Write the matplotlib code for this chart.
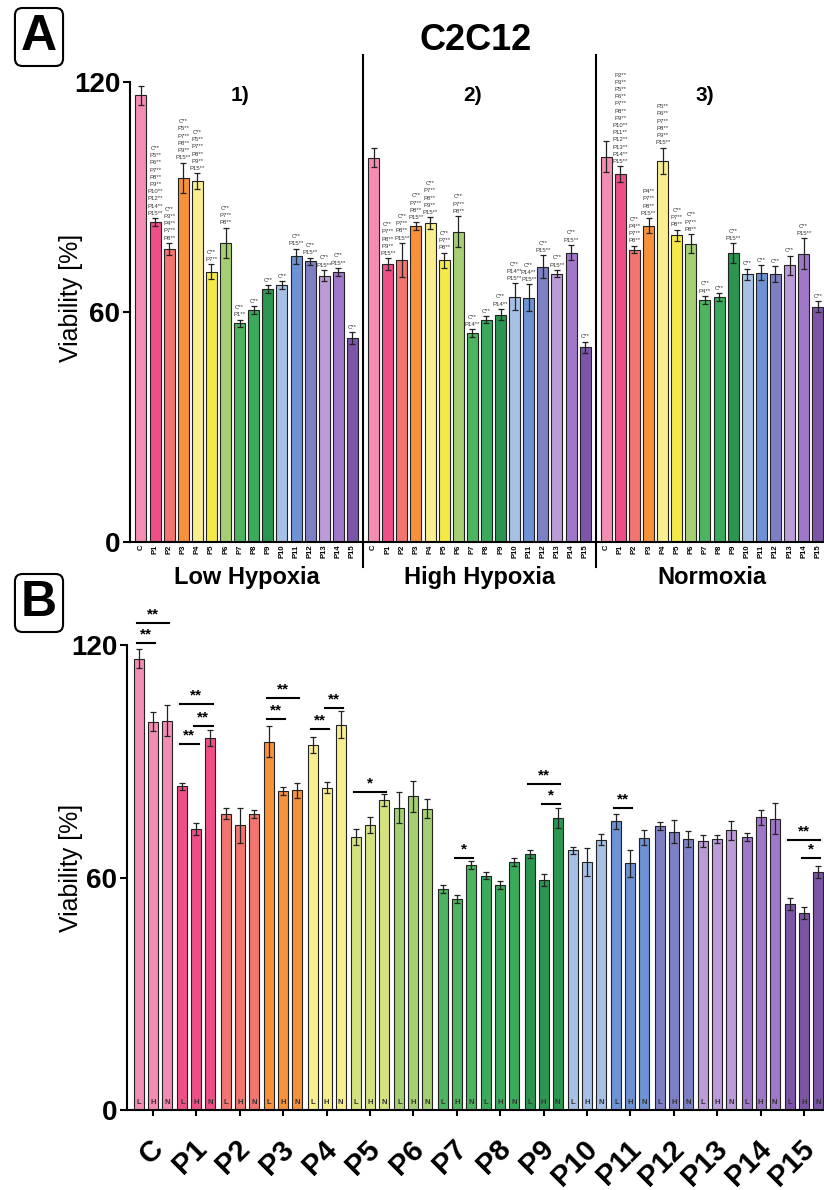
import numpy as np
import matplotlib.pyplot as plt
from matplotlib import transforms

plt.rcParams['font.family'] = ['Liberation Sans', 'DejaVu Sans']

# ---- data ----
compounds = ['C', 'P1', 'P2', 'P3', 'P4', 'P5', 'P6', 'P7', 'P8', 'P9',
             'P10', 'P11', 'P12', 'P13', 'P14', 'P15']
conditions = ['Low Hypoxia', 'High Hypoxia', 'Normoxia']
cond_short = ['L', 'H', 'N']
group_titles = ['1)', '2)', '3)']

low_hypoxia = [116.5, 83.5, 76.5, 95.0, 94.2, 70.5, 78.0, 57.0, 60.5, 66.0,
               67.0, 74.5, 73.2, 69.5, 70.5, 53.2]
low_hypoxia_err = [2.5, 1.0, 1.5, 4.0, 2.0, 2.0, 4.0, 1.0, 1.0, 1.0,
                   1.0, 2.0, 1.0, 1.5, 1.0, 1.5]
high_hypoxia = [100.2, 72.5, 73.5, 82.4, 83.2, 73.5, 81.0, 54.5, 58.0, 59.3,
                64.0, 63.7, 71.8, 70.0, 75.5, 50.8]
high_hypoxia_err = [2.5, 1.5, 4.5, 1.0, 1.5, 2.0, 4.0, 1.0, 1.0, 1.5,
                    3.5, 3.5, 3.0, 1.0, 2.0, 1.5]
normoxia = [100.5, 96.0, 76.3, 82.5, 99.4, 80.0, 77.8, 63.2, 64.0, 75.4,
            69.8, 70.3, 69.9, 72.2, 75.2, 61.4]
normoxia_err = [4.0, 2.0, 1.0, 2.0, 3.5, 1.5, 2.5, 1.0, 1.0, 2.5,
                1.5, 2.0, 2.0, 2.5, 4.0, 1.5]

colors = ['#F48DB4', '#EE4F86', '#F2756F', '#F7923A', '#F9EE8E', '#F4EA47',
          '#A5CF72', '#4DB560', '#3AAA5C', '#2A9650', '#A7C0E6', '#6D92D5',
          '#7D80C4', '#BB9BD8', '#A078C9', '#7C55A8']
colors_b = list(colors)
colors_b[5] = '#D5E27E'

# post-hoc labels stacked above the bars of panel A
sig_low = [[], ['C**', 'P5**', 'P6**', 'P7**', 'P8**', 'P9**', 'P10**', 'P12**', 'P14**', 'P15**'],
           ['C**', 'P3**', 'P4**', 'P7**', 'P8**'],
           ['C**', 'P5**', 'P7**', 'P8**', 'P9**', 'P15**'],
           ['C**', 'P5**', 'P7**', 'P8**', 'P9**', 'P15**'],
           ['C**', 'P7**'], ['C**', 'P7**', 'P8**'], ['C**', 'P1**'], ['C**'], ['C**'],
           ['C**'], ['C**', 'P15**'], ['C**', 'P15**'], ['C**', 'P15**'], ['C**', 'P15**'], ['C**']]
sig_high = [[], ['C**', 'P7**', 'P8**', 'P9**', 'P15**'], ['C**', 'P7**', 'P8**', 'P15**'],
            ['C**', 'P7**', 'P8**', 'P15**'], ['C**', 'P7**', 'P8**', 'P9**', 'P15**'],
            ['C**', 'P7**', 'P8**'], ['C**', 'P7**', 'P8**'], ['C**', 'P14**'], ['C**'],
            ['C**', 'P14**'], ['C**', 'P14**', 'P15**'], ['C**', 'P14**', 'P15**'],
            ['C**', 'P15**'], ['C**', 'P15**'], ['C**', 'P15**'], ['C**']]
sig_norm = [[], ['P2**', 'P3**', 'P5**', 'P6**', 'P7**', 'P8**', 'P9**', 'P10**', 'P11**',
                 'P12**', 'P13**', 'P14**', 'P15**'],
            ['C**', 'P4**', 'P7**', 'P8**'], ['P4**', 'P7**', 'P8**', 'P15**'],
            ['P5**', 'P6**', 'P7**', 'P8**', 'P9**', 'P15**'],
            ['C**', 'P7**', 'P8**'], ['C**', 'P7**', 'P8**'], ['C**', 'P4**'], ['C**'],
            ['C**', 'P15**'], ['C**'], ['C**'], ['C**'], ['C**'], ['C**', 'P15**'], ['C**']]

# panel B comparisons: (compound index, bar a, bar b, stars, bracket height)
sig_pairs = [(0, 0, 1, '**', 120.5), (0, 0, 2, '**', 125.7),
             (1, 0, 1, '**', 94.5), (1, 1, 2, '**', 99.1), (1, 0, 2, '**', 104.8),
             (3, 0, 1, '**', 100.9), (3, 0, 2, '**', 106.3),
             (4, 0, 1, '**', 98.3), (4, 1, 2, '**', 103.7),
             (5, 0, 2, '*', 82.1), (7, 1, 2, '*', 65.0),
             (9, 0, 2, '**', 84.1), (9, 1, 2, '*', 79.0),
             (11, 0, 1, '**', 77.9),
             (15, 0, 2, '**', 69.7), (15, 1, 2, '*', 65.0)]

values = [low_hypoxia, high_hypoxia, normoxia]
errors = [low_hypoxia_err, high_hypoxia_err, normoxia_err]
sigs = [sig_low, sig_high, sig_norm]

fig = plt.figure(figsize=(8.24, 11.9), dpi=100)
W, H = 824, 1190

def style_y(ax):
    ax.set_ylim(0, 120)
    ax.set_yticks([0, 60, 120])
    ax.tick_params(axis='y', length=5, width=1.5, pad=2, labelsize=20)
    for t in ax.get_yticklabels():
        t.set_fontweight('bold')
    for s in ['top', 'right']:
        ax.spines[s].set_visible(False)
    for s in ['left', 'bottom']:
        ax.spines[s].set_linewidth(1.5)
    ax.set_ylabel('Viability [%]', fontsize=18)

# ---------------- panel A ----------------
axA = fig.add_axes([130 / W, 1 - 542 / H, 694 / W, 460 / H])
n = len(compounds)
group_step = 16.5
xA = []
for g in range(3):
    x = np.arange(n) + g * group_step
    xA.extend(x)
    axA.bar(x, values[g], width=0.78, color=colors, edgecolor='#222222', linewidth=0.8)
    axA.errorbar(x, values[g], yerr=errors[g], fmt='none', ecolor='#222222',
                 elinewidth=0.9, capsize=2, capthick=0.9, clip_on=False)
    for i in range(n):
        if sigs[g][i]:
            axA.text(x[i], values[g][i] + errors[g][i] + 0.6, '\n'.join(sigs[g][i]),
                     fontsize=4.3, ha='center', va='bottom', linespacing=1.55,
                     color='#333333', clip_on=False)
style_y(axA)
axA.set_xlim(-0.78, 48.44)
axA.set_xticks(xA, compounds * 3, rotation=90, fontsize=5.5, fontweight='bold')
axA.tick_params(axis='x', length=0, pad=2)
axA.yaxis.set_label_coords(-0.068, 0.53)

trA = transforms.blended_transform_factory(axA.transData, axA.transAxes)
for g in range(1, 3):
    xs = g * group_step - 0.75
    axA.plot([xs, xs], [-0.054, 1.059], color='black', lw=1.5, transform=trA, clip_on=False)
for g in range(3):
    xc = g * group_step + 7.5
    axA.text(xc, -0.078, conditions[g], transform=trA, ha='center', va='center',
             fontsize=17, fontweight='bold')
    axA.text(xc - 0.5, 0.97, group_titles[g], transform=trA, ha='center', va='center',
             fontsize=15, fontweight='bold')

fig.text(476 / W, 1 - 40 / H, 'C2C12', fontsize=26, fontweight='bold', ha='center', va='center')
fig.text(39 / W, 1 - 37 / H, 'A', fontsize=36, fontweight='bold', ha='center', va='center',
         bbox=dict(boxstyle='round,pad=0.12,rounding_size=0.15', fc='white', ec='black', lw=1.5))
fig.text(39 / W, 1 - 603 / H, 'B', fontsize=36, fontweight='bold', ha='center', va='center',
         bbox=dict(boxstyle='round,pad=0.12,rounding_size=0.15', fc='white', ec='black', lw=1.5))

# ---------------- panel B ----------------
axB = fig.add_axes([127 / W, 1 - 1110 / H, 697 / W, 465 / H])
pitch = 3.1
centers = np.arange(n) * pitch
for j in range(3):
    x = centers + (j - 1)
    axB.bar(x, values[j], width=0.72, color=colors_b, edgecolor='#222222', linewidth=0.8)
    axB.errorbar(x, values[j], yerr=errors[j], fmt='none', ecolor='#222222',
                 elinewidth=0.9, capsize=2.5, capthick=0.9, clip_on=False)
    for i in range(n):
        axB.text(x[i], 1.0, cond_short[j], fontsize=5.5, ha='center', va='bottom',
                 color='#333333', fontweight='bold')
style_y(axB)
axB.set_xlim(-1.86, 47.93)
axB.set_xticks(centers)
axB.set_xticklabels(compounds, rotation=45, fontsize=21, fontweight='bold',
                    ha='right', va='center', rotation_mode='anchor')
axB.tick_params(axis='x', length=4, width=1.5, pad=21)
offset = transforms.ScaledTranslation(6 / 100, 0, fig.dpi_scale_trans)
for t in axB.get_xticklabels():
    t.set_transform(t.get_transform() + offset)
axB.yaxis.set_label_coords(-0.063, 0.52)

for ci, a, b, stars, yb in sig_pairs:
    x1 = centers[ci] + (a - 1) - 0.15
    x2 = centers[ci] + (b - 1) + 0.15
    axB.plot([x1, x2], [yb, yb], color='black', lw=1.5, clip_on=False)
    axB.text((x1 + x2) / 2, yb + 0.4, stars, ha='center', va='bottom',
             fontsize=11, fontweight='bold', clip_on=False)

fig.savefig('out.png', dpi=100, facecolor='white')
